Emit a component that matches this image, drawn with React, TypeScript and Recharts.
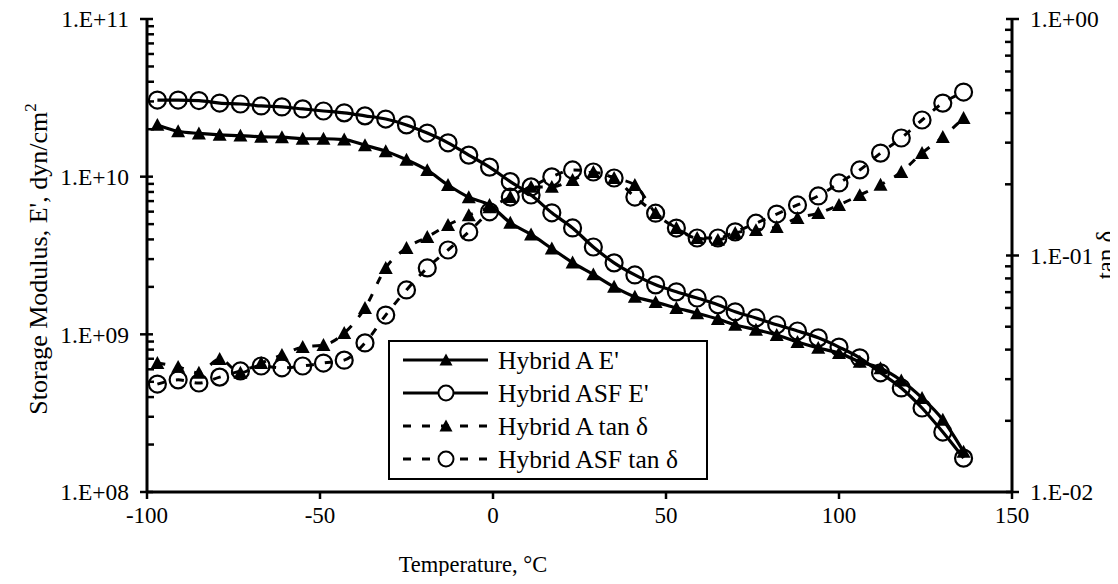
import React from 'react'
import { LineChart, Line, XAxis, YAxis, Legend } from 'recharts'

// temperature, °C
const temps = [
  -97, -91, -85, -79, -73, -67, -61, -55, -49, -43, -37, -31, -25, -19, -13, -7, -1, 5, 11, 17,
  23, 29, 35, 41, 47, 53, 59, 65, 70, 76, 82, 88, 94, 100, 106, 112, 118, 124, 130, 136,
]

// storage modulus, dyn/cm2
const hybridAE = [
  2.13e10, 1.94e10, 1.88e10, 1.84e10, 1.82e10, 1.79e10, 1.78e10, 1.74e10, 1.74e10, 1.72e10,
  1.58e10, 1.45e10, 1.28e10, 1.1e10, 8.85e9, 7.4e9, 6.6e9, 5.1e9, 4.3e9, 3.5e9,
  2.85e9, 2.4e9, 2.0e9, 1.73e9, 1.6e9, 1.47e9, 1.36e9, 1.25e9, 1.15e9, 1.07e9,
  9.9e8, 8.95e8, 8.2e8, 7.6e8, 6.7e8, 6.1e8, 5.1e8, 3.95e8, 2.87e8, 1.8e8,
]
const hybridASFE = [
  3.06e10, 3.06e10, 3.04e10, 2.93e10, 2.89e10, 2.81e10, 2.77e10, 2.69e10, 2.61e10, 2.54e10,
  2.43e10, 2.32e10, 2.13e10, 1.89e10, 1.64e10, 1.37e10, 1.15e10, 9.3e9, 7.65e9, 5.9e9,
  4.73e9, 3.58e9, 2.84e9, 2.38e9, 2.06e9, 1.86e9, 1.7e9, 1.54e9, 1.39e9, 1.27e9,
  1.15e9, 1.05e9, 9.5e8, 8.3e8, 7.1e8, 5.7e8, 4.57e8, 3.41e8, 2.4e8, 1.64e8,
]

// tan delta
const hybridATan = [
  0.0351, 0.0338, 0.0319, 0.0365, 0.0319, 0.0351, 0.038, 0.041, 0.0418, 0.047,
  0.06, 0.0886, 0.1076, 0.1198, 0.1346, 0.148, 0.16, 0.1767, 0.195, 0.195,
  0.2087, 0.2255, 0.2127, 0.1986, 0.151, 0.1306, 0.1186, 0.1164, 0.1245, 0.128,
  0.132, 0.144, 0.151, 0.1636, 0.18, 0.199, 0.2255, 0.271, 0.317, 0.381,
]
const hybridASFTan = [
  0.0286, 0.0298, 0.0289, 0.0306, 0.0325, 0.0341, 0.0335, 0.0341, 0.0351, 0.0361,
  0.0427, 0.056, 0.0715, 0.0886, 0.1055, 0.1258, 0.153, 0.1767, 0.195, 0.215,
  0.23, 0.2255, 0.2127, 0.1767, 0.151, 0.1306, 0.1186, 0.1186, 0.1259, 0.137,
  0.1497, 0.1636, 0.1786, 0.2027, 0.23, 0.271, 0.314, 0.374, 0.441, 0.491,
]

const xTicks = [-100, -50, 0, 50, 100, 150]
const leftTicks = [
  1e8, 2e8, 3e8, 4e8, 5e8, 6e8, 7e8, 8e8, 9e8,
  1e9, 2e9, 3e9, 4e9, 5e9, 6e9, 7e9, 8e9, 9e9,
  1e10, 2e10, 3e10, 4e10, 5e10, 6e10, 7e10, 8e10, 9e10, 1e11,
]
const rightTicks = [
  0.01, 0.02, 0.03, 0.04, 0.05, 0.06, 0.07, 0.08, 0.09,
  0.1, 0.2, 0.3, 0.4, 0.5, 0.6, 0.7, 0.8, 0.9, 1,
]

const seriesNames = ["Hybrid A E'", "Hybrid ASF E'", 'Hybrid A tan δ', 'Hybrid ASF tan δ']

const data = temps.map((t, i) => ({
  t,
  aE: hybridAE[i],
  asfE: hybridASFE[i],
  aTan: hybridATan[i],
  asfTan: hybridASFTan[i],
}))

const FONT = '"Liberation Serif", "Times New Roman", serif'
const DASH = '8 11'
const W = 1110
const H = 576
const LEFT_W = 139
const RIGHT_W = 106

function expLabel(v: number) {
  const e = Math.round(Math.log10(v))
  const sign = e < 0 ? '-' : '+'
  return `1.E${sign}${String(Math.abs(e)).padStart(2, '0')}`
}

function LogTick(props: any) {
  const { y, payload, side } = props
  const v = payload.value
  const e = Math.round(Math.log10(v))
  const major = Math.abs(v - Math.pow(10, e)) < v * 1e-6
  const axisX = side === 'left' ? LEFT_W : W - RIGHT_W
  const dir = side === 'left' ? 1 : -1 // towards the plot
  if (!major) {
    return <line x1={axisX} x2={axisX + 7 * dir} y1={y} y2={y} stroke="#000" strokeWidth={2.5} />
  }
  return (
    <g>
      <line x1={axisX - 7 * dir} x2={axisX + 6 * dir} y1={y} y2={y} stroke="#000" strokeWidth={2.5} />
      <text
        x={side === 'left' ? axisX - 18 : axisX + 18}
        y={y}
        dy="0.35em"
        textAnchor={side === 'left' ? 'end' : 'start'}
        fontFamily={FONT}
        fontSize={23.5}
        fill="#000"
      >
        {expLabel(v)}
      </text>
    </g>
  )
}

function Tri({ cx, cy, s = 7 }: { cx: number; cy: number; s?: number }) {
  return <polygon points={`${cx - s},${cy + s * 0.85} ${cx + s},${cy + s * 0.85} ${cx},${cy - s}`} fill="#000" />
}

function Ring({ cx, cy, r = 8.5 }: { cx: number; cy: number; r?: number }) {
  return <circle cx={cx} cy={cy} r={r} fill="none" stroke="#000" strokeWidth={2.2} />
}

const triDot = (p: any) => <Tri key={`t${p.index}`} cx={p.cx} cy={p.cy} />
const ringDot = (p: any) => <Ring key={`r${p.index}`} cx={p.cx} cy={p.cy} />

function LegendBox() {
  const rows = [
    { name: seriesNames[0], dash: undefined, mark: 'tri' },
    { name: seriesNames[1], dash: undefined, mark: 'ring' },
    { name: seriesNames[2], dash: DASH, mark: 'tri' },
    { name: seriesNames[3], dash: DASH, mark: 'ring' },
  ]
  return (
    <div
      style={{
        width: 316,
        height: 136,
        border: '2px solid #000',
        background: '#fff',
        boxSizing: 'content-box',
        position: 'relative',
      }}
    >
      <svg width={316} height={136} style={{ position: 'absolute', left: 0, top: 0 }}>
        {rows.map((r, i) => {
          const cy = 18 + i * 33
          return (
            <g key={r.name}>
              <line x1={13} x2={98} y1={cy} y2={cy} stroke="#000" strokeWidth={3} strokeDasharray={r.dash} />
              {r.mark === 'tri' ? (
                <Tri cx={56} cy={cy} s={6.5} />
              ) : (
                <circle cx={56} cy={cy} r={7.5} fill="#fff" stroke="#000" strokeWidth={2} />
              )}
              <text x={108} y={cy} dy="0.35em" fontFamily={FONT} fontSize={25.5} fill="#000">
                {r.name}
              </text>
            </g>
          )
        })}
      </svg>
    </div>
  )
}

export default function App() {
  return (
    <div style={{ width: W, height: H, marginTop: -8, position: 'relative', fontFamily: FONT }}>
      <LineChart width={W} height={H} data={data} margin={{ top: 19, right: 0, bottom: 0, left: 0 }}>
        <XAxis
          dataKey="t"
          type="number"
          domain={[-100, 150]}
          ticks={xTicks}
          allowDataOverflow
          height={84}
          axisLine={{ stroke: '#000', strokeWidth: 3 }}
          tickLine={{ stroke: '#000', strokeWidth: 2.5 }}
          tickSize={7}
          tickMargin={8}
          tick={{ fill: '#000', fontSize: 23, fontFamily: FONT }}
          label={() => (
            <text x={465} y={572} textAnchor="middle" fontFamily={FONT} fontSize={22.5} fill="#000">
              Temperature, °C
            </text>
          )}
        />
        <XAxis
          xAxisId="top"
          orientation="top"
          type="number"
          dataKey="t"
          domain={[-100, 150]}
          height={0}
          tick={false}
          tickLine={false}
          axisLine={{ stroke: '#000', strokeWidth: 3 }}
        />
        <YAxis
          yAxisId="left"
          scale="log"
          domain={[1e8, 1e11]}
          allowDataOverflow
          ticks={leftTicks}
          interval={0}
          width={LEFT_W}
          tickSize={8}
          tickMargin={6}
          tickLine={false}
          axisLine={{ stroke: '#000', strokeWidth: 3 }}
          tick={<LogTick side="left" />}
          label={() => (
            <text
              transform="translate(30,259) rotate(-90)"
              textAnchor="middle"
              dy="0.35em"
              fontFamily={FONT}
              fontSize={26}
              fill="#000"
            >
              Storage Modulus, E', dyn/cm
              <tspan dy={-11} fontSize={17}>2</tspan>
            </text>
          )}
        />
        <YAxis
          yAxisId="right"
          orientation="right"
          scale="log"
          domain={[0.01, 1]}
          allowDataOverflow
          ticks={rightTicks}
          interval={0}
          width={RIGHT_W}
          tickSize={8}
          tickMargin={6}
          tickLine={false}
          axisLine={{ stroke: '#000', strokeWidth: 3 }}
          tick={<LogTick side="right" />}
          label={() => (
            <text
              transform="translate(1106,255) rotate(-90)"
              textAnchor="middle"
              fontFamily={FONT}
              fontSize={25}
              fill="#000"
            >
              tan δ
            </text>
          )}
        />
        <Line
          yAxisId="right"
          dataKey="aTan"
          name={seriesNames[2]}
          type="monotone"
          stroke="#000"
          strokeWidth={3}
          strokeDasharray={DASH}
          dot={triDot}
          isAnimationActive={false}
        />
        <Line
          yAxisId="right"
          dataKey="asfTan"
          name={seriesNames[3]}
          type="monotone"
          stroke="#000"
          strokeWidth={3}
          strokeDasharray={DASH}
          dot={ringDot}
          isAnimationActive={false}
        />
        <Line
          yAxisId="left"
          dataKey="aE"
          name={seriesNames[0]}
          type="monotone"
          stroke="#000"
          strokeWidth={3.2}
          dot={triDot}
          isAnimationActive={false}
        />
        <Line
          yAxisId="left"
          dataKey="asfE"
          name={seriesNames[1]}
          type="monotone"
          stroke="#000"
          strokeWidth={3.2}
          dot={ringDot}
          isAnimationActive={false}
        />
        <Legend
          layout="vertical"
          align="center"
          verticalAlign="middle"
          content={() => <LegendBox />}
          wrapperStyle={{ position: 'absolute', left: 380, top: 340, width: 320, height: 140 }}
        />
      </LineChart>
    </div>
  )
}
